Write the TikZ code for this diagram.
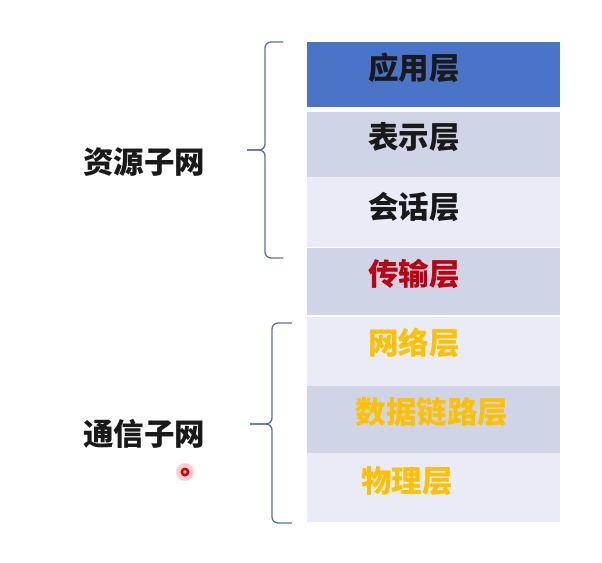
\documentclass[tikz,border=0pt]{standalone}
\usepackage{fontspec}
\newfontfamily\cjk{Noto Sans CJK SC}
\definecolor{appblue}{HTML}{4A74C8}
\definecolor{rowdark}{HTML}{CFD5E7}
\definecolor{rowlight}{HTML}{E9EBF6}
\definecolor{txtred}{HTML}{C00010}
\definecolor{txtyel}{HTML}{FFC000}
\definecolor{bracecol}{HTML}{5B6EA8}
\tikzset{
  rowbox/.style={draw=none, rectangle, minimum width=253pt, inner sep=0pt, anchor=north west},
  lay/.style={font=\cjk\bfseries\fontsize{30.5}{33}\selectfont, inner sep=0pt},
  side/.style={font=\cjk\bfseries\fontsize{30.5}{33}\selectfont, inner sep=0pt, text=black!90},
  bracestyle/.style={draw=bracecol, line width=1.3pt, rounded corners=6pt},
}
\begin{document}
\begin{tikzpicture}[x=1pt,y=-1pt]
\useasboundingbox[fill=white] (0,0) rectangle (602,562);
% rows
\node[rowbox, fill=appblue, minimum height=65pt] (r1) at (307,42) {};
\node[rowbox, fill=rowdark, minimum height=65pt] (r2) at (307,112) {};
\node[rowbox, fill=rowlight, minimum height=70pt] (r3) at (307,177) {};
\node[rowbox, fill=rowdark, minimum height=67pt] (r4) at (307,248) {};
\node[rowbox, fill=rowlight, minimum height=69pt] (r5) at (307,317) {};
\node[rowbox, fill=rowdark, minimum height=67pt] (r6) at (307,386) {};
\node[rowbox, fill=rowlight, minimum height=69pt] (r7) at (307,453) {};
% layer labels
\node[lay, text=black!90] (t1) at (414,68) {应用层};
\node[lay, text=black!90] (t2) at (414,137) {表示层};
\node[lay, text=black!90] (t3) at (414,207) {会话层};
\node[lay, text=txtred] (t4) at (414,274) {传输层};
\node[lay, text=txtyel] (t5) at (414,343) {网络层};
\node[lay, text=txtyel] (t6) at (432,412) {数据链路层};
\node[lay, text=txtyel] (t7) at (407,481) {物理层};
% side labels
\node[side] (s1) at (144,162) {资源子网};
\node[side] (s2) at (144,434) {通信子网};
% braces
\coordinate (b1t) at (283,42);
\coordinate (b1m) at (247,150);
\coordinate (b1b) at (283,258);
\draw[bracestyle] (b1t) -| (265,150) -- (b1m);
\draw[bracestyle] (b1m) -- (265,150) |- (b1b);
\coordinate (b2t) at (292,323);
\coordinate (b2m) at (250,424);
\coordinate (b2b) at (292,523);
\draw[bracestyle] (b2t) -| (272,424) -- (b2m);
\draw[bracestyle] (b2m) -- (272,424) |- (b2b);
% pointer dot
\fill[red!30, opacity=0.6] (185,472) circle (9pt);
\fill[red!85!black] (185,472) circle (4.5pt);
\fill[pink] (185,472) circle (1.8pt);
\end{tikzpicture}
\end{document}
